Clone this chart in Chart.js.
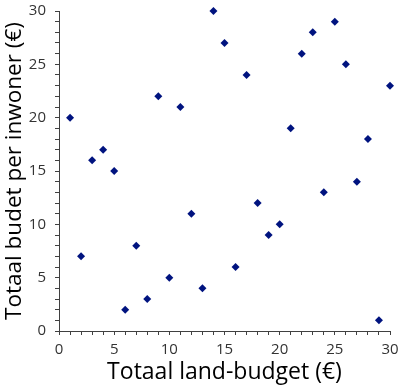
<!DOCTYPE html>
<html>
<head>
<meta charset="utf-8">
<script src="https://cdn.jsdelivr.net/npm/chart.js@4/dist/chart.umd.min.js"></script>
<style>
  html, body { margin: 0; padding: 0; background: #ffffff; }
  #wrap { width: 400px; height: 388px; }
</style>
</head>
<body>
<div id="wrap"><canvas id="c" width="400" height="388"></canvas></div>
<script>
const xValues = [1, 2, 3, 4, 5, 6, 7, 8, 9, 10, 11, 12, 13, 14, 15, 16, 17, 18, 19, 20, 21, 22, 23, 24, 25, 26, 27, 28, 29, 30];
const yValues = [20, 7, 16, 17, 15, 2, 8, 3, 22, 5, 21, 11, 4, 30, 27, 6, 24, 12, 9, 10, 19, 26, 28, 13, 29, 25, 14, 18, 1, 23];
const xTitle = "Totaal land-budget (€)";
const yTitle = "Totaal budet per inwoner (€)";
const axisMin = 0, axisMax = 30, labelStep = 5, minorStep = 1;

const points = xValues.map((x, i) => ({ x: x, y: yValues[i] }));
const FONT = "'Open Sans', 'Noto Sans', sans-serif";
const tickCb = v => (v % labelStep === 0 ? String(v) : '');

new Chart(document.getElementById('c'), {
  type: 'scatter',
  data: {
    datasets: [{
      data: points,
      clip: false,
      pointStyle: 'rectRot',
      pointRadius: 4,
      pointHoverRadius: 4,
      borderWidth: 0,
      backgroundColor: '#00137f',
      borderColor: '#00137f'
    }]
  },
  options: {
    responsive: false,
    animation: false,
    events: [],
    layout: { padding: { top: 11, right: 10, left: 0, bottom: 0 } },
    plugins: { legend: { display: false }, tooltip: { enabled: false } },
    scales: {
      x: {
        type: 'linear',
        min: axisMin, max: axisMax,
        afterFit: s => { s.height = 57; s.paddingLeft = 0; s.paddingRight = 0; },
        border: { display: true, color: '#404040', width: 1 },
        grid: { display: true, drawOnChartArea: false, drawTicks: true, tickLength: 4, color: '#404040' },
        ticks: { stepSize: minorStep, autoSkip: false, maxRotation: 0, callback: tickCb,
                 color: '#333333', padding: 6, font: { family: FONT, size: 15 } },
        title: { display: true, text: xTitle, color: '#000000',
                 font: { family: FONT, size: 23 }, padding: { top: 0, bottom: 1.5 } }
      },
      y: {
        type: 'linear',
        min: axisMin, max: axisMax,
        afterFit: s => { s.width = 59; s.paddingTop = 0; s.paddingBottom = 0; },
        border: { display: true, color: '#404040', width: 1 },
        grid: { display: true, drawOnChartArea: false, drawTicks: true, tickLength: 4, color: '#404040' },
        ticks: { stepSize: minorStep, autoSkip: false, callback: tickCb,
                 color: '#333333', padding: 9, font: { family: FONT, size: 15 } },
        title: { display: true, text: yTitle, color: '#000000',
                 font: { family: FONT, size: 22.5 }, padding: { top: 1.5, bottom: 0 } }
      }
    }
  }
});
</script>
</body>
</html>
